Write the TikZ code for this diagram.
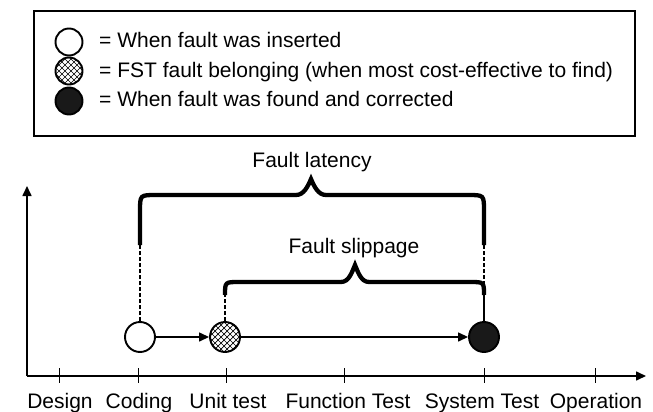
\documentclass[tikz,border=0pt]{standalone}
\usepackage{fontspec}
\setmainfont{Liberation Sans}
\usetikzlibrary{arrows.meta}
\tikzset{
  txt/.style={font=\fontsize{21}{25}\selectfont, inner sep=0pt},
  dot/.style={circle, draw, line width=1.9pt, inner sep=0pt, minimum size=30pt},
  ldot/.style={circle, draw, line width=1.9pt, inner sep=0pt, minimum size=27pt},
  hatch/.style={path picture={
    \foreach \i in {-40,-34,...,40}{
      \draw[line width=0.7pt] ([shift={(\i-20,-20)}]path picture bounding box.center) -- ++(40,40);
      \draw[line width=0.7pt] ([shift={(\i-20,20)}]path picture bounding box.center) -- ++(40,-40);
    }}},
  brace/.style={line width=4.3pt, line cap=butt},
  guide/.style={line width=1.4pt, dash pattern=on 4pt off 2pt},
  flow/.style={line width=1.4pt, -{Triangle[length=10pt,width=9pt]}},
  axis/.style={line width=1.6pt, -{Triangle[length=10pt,width=9pt]}},
  tick/.style={line width=1pt}
}
\begin{document}
\begin{tikzpicture}[x=1pt,y=-1pt]
\useasboundingbox (0,0) rectangle (653,412);
% legend
\node[draw, line width=1.8pt, minimum width=601pt, minimum height=125pt, anchor=north west, inner sep=0pt] (legend) at (33,10) {};
\node[ldot] (l1) at (69,42) {};
\node[ldot, hatch] (l2) at (69,71) {};
\node[ldot, fill=black!90] (l3) at (69,101) {};
\node[txt, anchor=base west] (t1) at (99,47.5) {= When fault was inserted};
\node[txt, anchor=base west] (t2) at (99,77.3) {= FST fault belonging (when most cost-effective to find)};
\node[txt, anchor=base west] (t3) at (99,106.7) {= When fault was found and corrected};
% axes
\coordinate (O) at (27,376);
\coordinate (ytop) at (27,186);
\coordinate (xend) at (646,376);
\draw[axis] (O) -- (ytop);
\draw[axis] (O) -- (xend);
\foreach \x in {59,138,226,344,484,595}{
  \draw[tick] (\x,368) -- (\x,383);
}
\node[txt, anchor=base] (ldesign) at (60,408) {Design};
\node[txt, anchor=base] (lcoding) at (139,408) {Coding};
\node[txt, anchor=base] (lunit) at (228,408) {Unit test};
\node[txt, anchor=base] (lfunc) at (348,408) {Function Test};
\node[txt, anchor=base] (lsys) at (482,408) {System Test};
\node[txt, anchor=base] (loper) at (596,408) {Operation};
% fault circles
\node[dot, fill=white] (ins) at (140,337) {};
\node[dot, hatch] (fst) at (225,337) {};
\node[dot, fill=black!90] (fnd) at (484,337) {};
\draw[flow] (ins) -- (fst);
\draw[flow] (fst) -- (fnd);
% braces
\coordinate (latL) at (140,245);
\coordinate (latR) at (484,245);
\coordinate (slipL) at (225,295);
\coordinate (slipR) at (484,295);
\draw[brace] (latL) -- (140,211) .. controls (140,195) .. (156,195) -- (296,195)
  .. controls (304,195) and (308,186) .. (311,179)
  .. controls (314,186) and (318,195) .. (326,195) -- (468,195)
  .. controls (484,195) .. (484,211) -- (latR);
\draw[brace] (slipL) .. controls (225,282) .. (239,282) -- (341,282)
  .. controls (349,282) and (352,272) .. (355,265)
  .. controls (358,272) and (361,282) .. (369,282) -- (470,282)
  .. controls (484,282) .. (slipR);
\node[txt, anchor=base] (latency) at (312,167) {Fault latency};
\node[txt, anchor=base] (slippage) at (354,253.3) {Fault slippage};
% guides
\draw[guide] (ins.north) -- (latL);
\draw[guide] (fst.north) -- (slipL);
\draw[guide] (latR) -- (slipR);
\draw[line width=1.2pt] (slipR) -- (fnd.north);
\end{tikzpicture}
\end{document}
